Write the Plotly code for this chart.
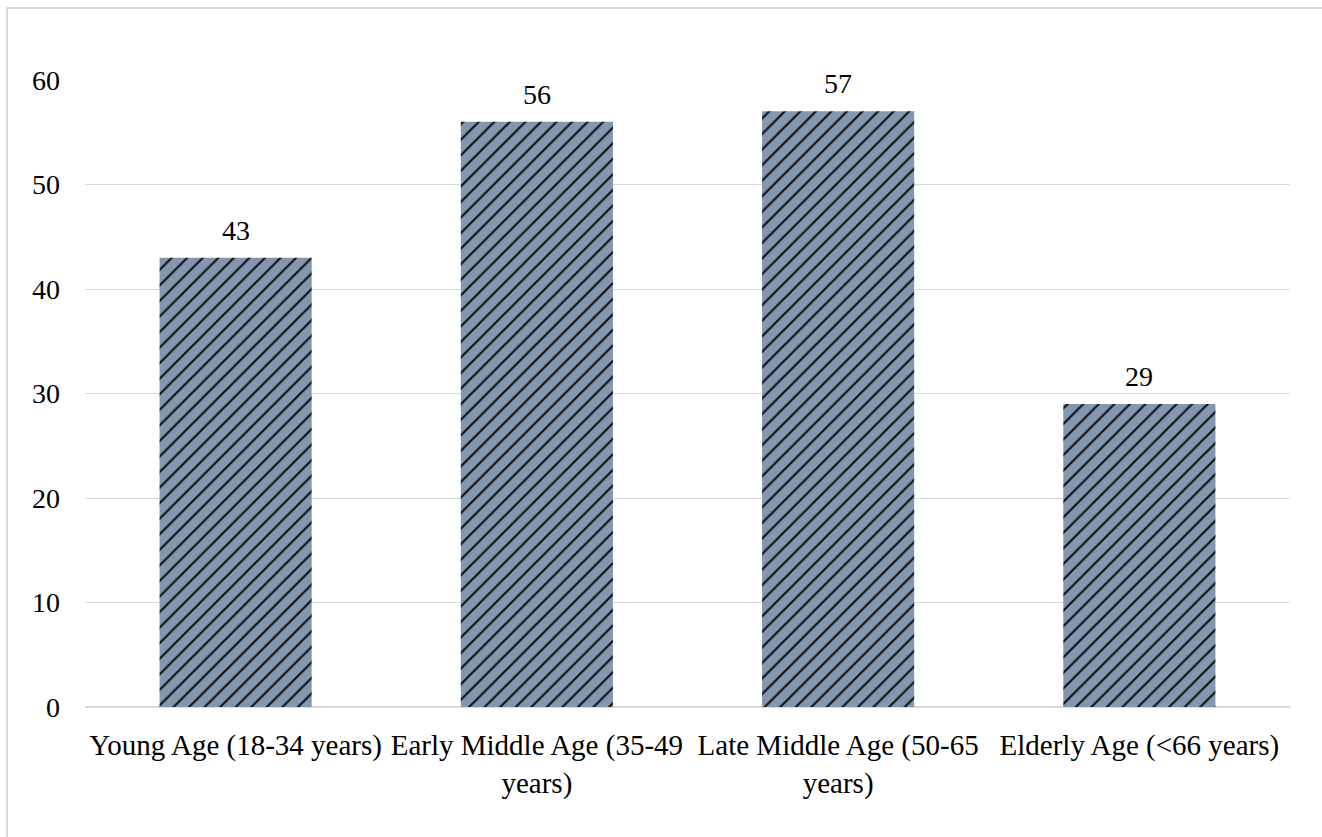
import plotly.graph_objects as go

# Respondent counts per age group
categories = [
    "Young Age (18-34 years)",
    "Early Middle Age (35-49<br>years)",
    "Late Middle Age (50-65<br>years)",
    "Elderly Age (<66 years)",
]
counts = [43, 56, 57, 29]
y_ticks = [0, 10, 20, 30, 40, 50, 60]

W, H = 1322, 837
L, R, T, B = 85, 32, 80, 130
plot_w = W - L - R
plot_h = H - T - B

FONT = "Liberation Serif, Times New Roman, serif"
FS = 28
GRID = "#d9d9d9"

fig = go.Figure(
    go.Bar(
        x=categories,
        y=counts,
        marker=dict(
            color="#8497b0",
            line=dict(width=0),
            pattern=dict(
                shape="/",
                fgcolor="#111111",
                bgcolor="#8497b0",
                size=11,
                solidity=0.2,
                fillmode="replace",
            ),
        ),
        hoverinfo="x+y",
    )
)

# value labels above each bar
for cat, val in zip(categories, counts):
    fig.add_annotation(
        x=cat, y=val, text=str(val), showarrow=False,
        yanchor="bottom", yshift=10,
        font=dict(family=FONT, size=FS, color="#000000"),
    )

# chart-area outline (left and top edges are visible inside the canvas)
def px_x(p):
    return (p - L) / plot_w

def px_y(p):
    return (H - B - p) / plot_h

fig.add_shape(
    type="rect", xref="paper", yref="paper",
    x0=px_x(7), x1=px_x(1330), y0=px_y(845), y1=px_y(8),
    line=dict(color=GRID, width=2), layer="below",
)

fig.update_layout(
    width=W,
    height=H,
    margin=dict(l=L, r=R, t=T, b=B),
    paper_bgcolor="white",
    plot_bgcolor="white",
    bargap=0.495,
    showlegend=False,
    font=dict(family=FONT, size=FS, color="#000000"),
)
fig.update_xaxes(
    showgrid=False,
    showline=True,
    linecolor=GRID,
    linewidth=1,
    ticks="",
    tickfont=dict(family=FONT, size=29, color="#000000"),
    ticklabelstandoff=12,
    tickangle=0,
)
fig.update_yaxes(
    range=[0, 60],
    tickvals=y_ticks,
    showgrid=True,
    gridcolor=GRID,
    gridwidth=1,
    zeroline=True,
    zerolinecolor=GRID,
    showline=False,
    ticks="",
    tickfont=dict(family=FONT, size=FS, color="#000000"),
    ticklabelstandoff=24,
)

fig.write_html("out.html")
